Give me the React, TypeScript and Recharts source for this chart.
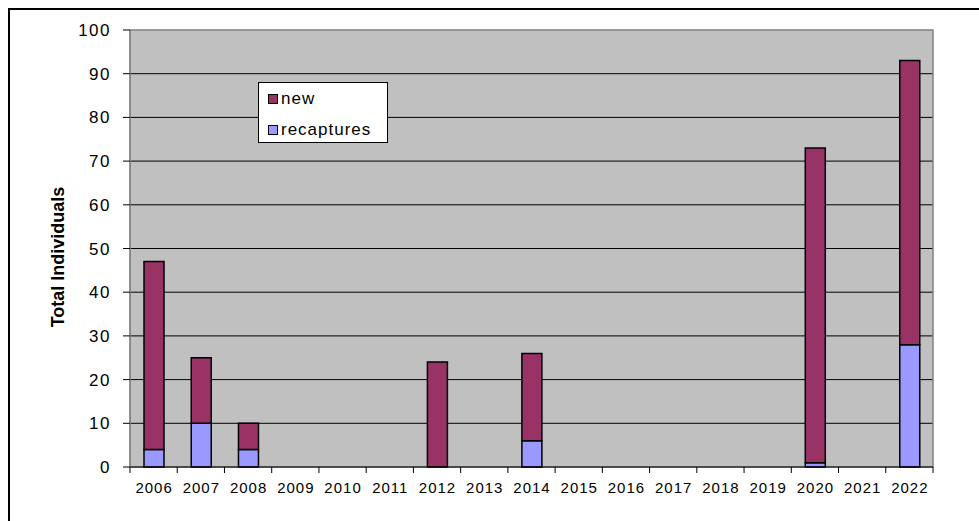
import { Bar, BarChart, CartesianGrid, ReferenceArea, XAxis, YAxis } from "recharts";

const years = ["2006", "2007", "2008", "2009", "2010", "2011", "2012", "2013", "2014", "2015", "2016", "2017", "2018", "2019", "2020", "2021", "2022"];
const recaptures = [4, 10, 4, null, null, null, 0, null, 6, null, null, null, null, null, 1, null, 28];
const newOnes = [43, 15, 6, null, null, null, 24, null, 20, null, null, null, null, null, 72, null, 65];
const yTicks = [0, 10, 20, 30, 40, 50, 60, 70, 80, 90, 100];
const gridValues = [10, 20, 30, 40, 50, 60, 70, 80, 90];

const data = years.map((year, i) => ({ year, recaptures: recaptures[i], new: newOnes[i] }));

const FONT = "'Liberation Sans', Arial, sans-serif";
const PLOT_LEFT = 130;
const PLOT_RIGHT = 933;
const PLOT_BOTTOM = 467;
const BAND = (PLOT_RIGHT - PLOT_LEFT) / years.length;

function XTick(props: any) {
  const { x, payload, index } = props;
  const last = index === years.length - 1;
  return (
    <g>
      <line x1={x - BAND / 2} y1={PLOT_BOTTOM} x2={x - BAND / 2} y2={PLOT_BOTTOM + 6} stroke="#000" />
      {last && <line x1={x + BAND / 2} y1={PLOT_BOTTOM} x2={x + BAND / 2} y2={PLOT_BOTTOM + 6} stroke="#000" />}
      <text x={x + 0.5} y={493} textAnchor="middle" fontSize={15} fontFamily={FONT} fill="#000" letterSpacing={1}>
        {payload.value}
      </text>
    </g>
  );
}

function YTitle() {
  return (
    <text
      x={58}
      y={257}
      transform="rotate(-90, 58, 257)"
      textAnchor="middle"
      dominantBaseline="central"
      fontSize={18}
      fontWeight="bold"
      fontFamily={FONT}
      fill="#000"
    >
      Total Individuals
    </text>
  );
}

function LegendBox() {
  const item = (color: string, label: string) => (
    <div style={{ display: "flex", alignItems: "center", height: 31 }}>
      <span style={{ width: 8, height: 8, background: color, border: "1.5px solid #000", marginRight: 3 }} />
      <span>{label}</span>
    </div>
  );
  return (
    <div
      style={{
        position: "absolute",
        left: 258,
        top: 82,
        width: 130,
        height: 61,
        background: "#fff",
        border: "1px solid #000",
        boxSizing: "border-box",
        paddingLeft: 9,
        fontFamily: FONT,
        fontSize: 17,
        letterSpacing: 1,
        color: "#000",
      }}
    >
      {item("#993366", "new")}
      {item("#9999FF", "recaptures")}
    </div>
  );
}

export default function App() {
  return (
    <div style={{ position: "fixed", left: 0, top: 0, width: 979, height: 521, overflow: "hidden", background: "#fff" }}>
      <div style={{ position: "absolute", left: 8, top: 8, width: 1000, height: 600, border: "2px solid #000" }} />
      <div style={{ position: "absolute", left: 0, top: 0 }}>
        <BarChart
          width={979}
          height={521}
          data={data}
          margin={{ top: 30, right: 979 - PLOT_RIGHT, bottom: 0, left: 0 }}
          barSize={20}
        >
          <CartesianGrid fill="#C0C0C0" stroke="#000" vertical={false} horizontalValues={gridValues} />
          <ReferenceArea y1={0} y2={100} fill="none" stroke="#808080" strokeWidth={1.5} />
          <XAxis
            dataKey="year"
            interval={0}
            tickLine={false}
            tick={<XTick />}
            axisLine={{ stroke: "#000" }}
            height={521 - PLOT_BOTTOM}
          />
          <YAxis
            width={PLOT_LEFT}
            domain={[0, 100]}
            ticks={yTicks}
            interval={0}
            tickSize={7}
            tickMargin={12}
            tickLine={{ stroke: "#000" }}
            axisLine={{ stroke: "#808080" }}
            tick={{ fontSize: 17, fontFamily: FONT, fill: "#000", letterSpacing: 1.5 }}
            label={{ content: () => <YTitle /> }}
          />
          <Bar dataKey="recaptures" stackId="a" fill="#9999FF" stroke="#000" strokeWidth={1.5} isAnimationActive={false} />
          <Bar dataKey="new" stackId="a" fill="#993366" stroke="#000" strokeWidth={1.5} isAnimationActive={false} />
        </BarChart>
      </div>
      <LegendBox />
    </div>
  );
}
